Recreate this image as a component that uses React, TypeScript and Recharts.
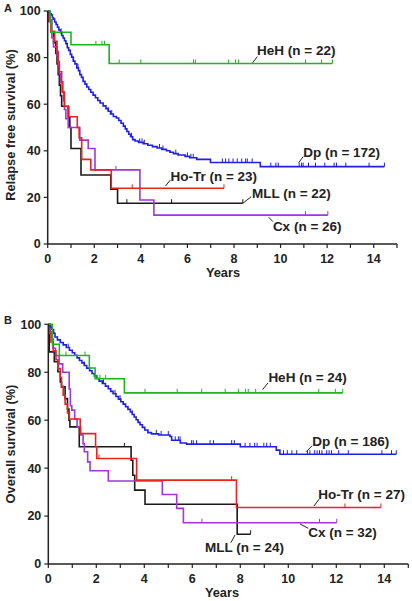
import React from 'react';
import { LineChart, Line, XAxis, YAxis, ReferenceLine, ReferenceDot } from 'recharts';

// ---------- DATA (Kaplan–Meier step curves: [years, survival %]) ----------
// Panel A: relapse free survival
const hehA: [number, number][] = [[0,100],[0.1,95.5],[0.17,90.9],[1.0,85.5],[2.64,77.5],[12.23,77.5]];
const dpA: [number, number][] = [
  [0,100],[0.05,99.4],[0.1,98.8],[0.15,98.3],[0.2,97.1],[0.25,96.5],[0.3,95.3],[0.36,94.2],[0.42,93],[0.48,91.9],
  [0.55,90.7],[0.6,89.5],[0.66,88.4],[0.72,87.2],[0.78,86],[0.84,84.3],[0.9,83.1],[0.97,81.4],[1.03,80.2],[1.1,78.5],
  [1.17,77.3],[1.25,75.6],[1.32,74.4],[1.38,72.7],[1.45,71.5],[1.52,69.8],[1.6,68.6],[1.68,67.4],[1.76,66.3],[1.85,65.1],
  [1.95,63.9],[2.05,62.8],[2.15,61.6],[2.25,60.5],[2.38,59.3],[2.5,58.1],[2.6,57],[2.7,55.8],[2.82,54.7],[2.95,54.1],
  [3.05,53],[3.15,51.8],[3.25,50.6],[3.33,49.4],[3.4,48.3],[3.48,47.1],[3.56,46],[3.65,44.8],[3.75,44.2],[3.9,43.6],
  [4.1,43],[4.3,42.4],[4.5,41.8],[4.7,41.2],[4.9,40.6],[5.1,40],[5.25,39.4],[5.4,38.8],[5.6,38.2],[5.9,37.6],
  [6.1,37],[6.4,36.3],[6.99,35],[9.13,33.2],[14.46,33.2],
];
const hotrA: [number, number][] = [
  [0,100],[0.05,95.7],[0.15,91.3],[0.3,87],[0.4,82.6],[0.45,78.3],[0.5,73.9],[0.6,69.6],[0.65,65.2],[0.72,59],
  [0.91,54.6],[1.27,50],[1.35,45.6],[1.46,36.3],[1.85,31.8],[2.73,23.9],[7.57,23.9],
];
const mllA: [number, number][] = [
  [0,100],[0.05,95.5],[0.15,90.9],[0.25,86.4],[0.35,81.8],[0.4,77.3],[0.45,72.7],[0.5,68.2],[0.55,63.6],[0.6,59.1],
  [0.88,54.5],[0.95,50],[1.0,41],[1.43,29.6],[2.71,23.5],[3.0,17.5],[8.38,17.5],
];
const cxA: [number, number][] = [
  [0,100],[0.1,96.2],[0.18,88.5],[0.25,84.6],[0.4,80.8],[0.45,76.9],[0.5,73.1],[0.55,69.2],[0.62,65.4],[0.68,61.5],
  [0.72,57.7],[0.78,53.8],[0.88,50],[1.38,44.6],[1.74,41],[2.03,31.8],[3.96,18.9],[4.56,12.4],[12.03,12.4],
];
// censor times (years)
const hehACens = [0.6,2.07,2.33,2.44,3.07,4.0,6.26,6.34,7.76,8.07,8.2,11.07,11.76,12.23];
const dpACens = [0.6,1.1,1.3,2.6,2.75,3.6,3.95,4.05,4.15,4.8,4.95,5.5,6.0,6.15,6.25,7.5,7.64,7.78,7.96,8.14,8.33,8.5,8.57,8.78,
  9.58,9.8,9.9,10.8,10.9,10.97,11.2,11.5,11.9,12.3,12.4,12.8,13.8,14.46];
const hotrACens = [3.63,7.57];
const mllACens = [3.4,5.32,8.38];
const cxACens = [2.93,11.07,12.03];

// Panel B: overall survival
const hehB: [number, number][] = [[0,100],[0.17,91.7],[0.46,87],[1.71,81.8],[1.95,77.3],[3.17,71.4],[12.27,71.4]];
const dpB: [number, number][] = [
  [0,100],[0.05,99.5],[0.1,98.9],[0.15,97.8],[0.22,96.2],[0.28,94.7],[0.38,93.5],[0.5,92.4],[0.62,91.4],[0.75,90.3],
  [0.88,89.2],[1.0,88.1],[1.1,87.1],[1.2,86],[1.3,84.9],[1.4,83.9],[1.5,82.8],[1.6,81.7],[1.72,80.6],[1.82,79.5],
  [1.92,78.5],[2.02,77.4],[2.12,76.3],[2.25,75.3],[2.38,74.2],[2.5,73.1],[2.6,72],[2.7,71],[2.82,69.9],[2.92,68.8],
  [3.02,67.7],[3.12,66.7],[3.22,65.6],[3.32,64.5],[3.42,63.4],[3.5,62.4],[3.58,61.3],[3.66,60.2],[3.74,59.1],[3.82,58.1],
  [3.92,57],[4.02,55.9],[4.15,54.8],[4.3,54.3],[4.6,53.8],[5.07,53.2],[5.14,51.6],[5.5,50.5],[5.76,50],[8.0,48.9],
  [9.5,47.5],[9.65,45.8],[14.5,45.8],
];
const hotrB: [number, number][] = [
  [0,100],[0.05,96.3],[0.11,92.6],[0.2,88.9],[0.32,85.2],[0.4,81.5],[0.5,77.8],[0.55,74.1],[0.62,70.4],[0.7,66.7],
  [0.8,63],[0.88,60.5],[1.33,54.4],[1.97,48.9],[2.02,44],[3.68,35],[7.84,23.6],[13.86,23.6],
];
const mllB: [number, number][] = [
  [0,100],[0.04,88.5],[0.25,84.4],[0.4,80.2],[0.5,76],[0.55,73.9],[0.7,69],[0.8,64.6],[0.86,60],[0.9,57.2],
  [1.29,48.9],[3.45,43.3],[3.52,37],[3.6,30.8],[4.03,24.9],[7.87,12.4],[8.43,12.4],
];
const cxB: [number, number][] = [
  [0,100],[0.08,96.9],[0.15,93.8],[0.21,90],[0.3,87],[0.45,83.5],[0.6,80],[0.87,73],[0.92,66],[0.98,64.2],
  [1.1,60.5],[1.2,57.2],[1.35,53.8],[1.45,50.2],[1.5,46.8],[1.64,42.6],[1.74,38.9],[2.5,34.6],[4.75,29],[5.35,23.2],
  [5.63,17.2],[12.02,17.2],
];
const hehBCens = [0.74,1.53,2.02,2.15,2.39,4.03,5.37,6.39,7.37,7.92,8.22,8.33,8.64,11.27,11.96,12.27];
const dpBCens = [0.83,1.5,2.3,2.78,2.99,3.5,4.5,4.7,5.0,5.29,5.42,5.49,5.97,6.04,6.18,6.74,6.88,7.64,7.75,8.2,8.4,8.6,8.7,
  8.98,9.1,9.25,9.8,9.96,10.15,10.35,10.8,10.9,11.1,11.2,11.3,11.4,11.6,11.7,11.8,12.1,12.5,13.9,14.3,14.5];
const hotrBCens = [2.11,7.64,12.36,13.86];
const mllBCens = [3.17,8.43];
const cxBCens = [6.4,11.3,12.02];

const xTicks = [0,1,2,3,4,5,6,7,8,9,10,11,12,13,14,15];
const yTicks = [0,20,40,60,80,100];

// ---------- STYLE ----------
const FONT = '"Liberation Sans", Arial, Helvetica, sans-serif';
const INK = '#222';
const C = { heh: '#22b322', dp: '#1f1fe6', hotr: '#ee2020', mll: '#1a1a1a', cx: '#a236d8' };

const toPts = (c: [number, number][]) => c.map(([t, s]) => ({ t, s }));
const stepValue = (c: [number, number][], t: number) => {
  let v = c[0][1];
  for (const [ct, cs] of c) { if (ct <= t + 1e-9) v = cs; else break; }
  return v;
};
const censPts = (c: [number, number][], times: number[]) => times.map((t) => ({ t, s: stepValue(c, t) }));

const censorDot = (color: string) => (props: any) => {
  const { cx, cy, index } = props;
  if (cx == null || cy == null) return <g key={`e${index}`} />;
  return <line key={`c${index}`} x1={cx} x2={cx} y1={cy - 4} y2={cy} stroke={color} strokeWidth={1} />;
};

const XTick = (props: any) => {
  const { x, y, payload } = props;
  if (payload.value % 2 !== 0) return <g />;
  return (
    <text x={x} y={y} dy={12.5} textAnchor="middle" fontFamily={FONT} fontWeight="bold" fontSize={12.5} fill={INK}>
      {payload.value}
    </text>
  );
};
const YTick = (props: any) => {
  const { x, y, payload } = props;
  return (
    <text x={x - 1} y={y} dy={4.4} textAnchor="end" fontFamily={FONT} fontWeight="bold" fontSize={12.5} fill={INK}>
      {payload.value}
    </text>
  );
};

type Ann = { text: string; x: number; y: number; lx1: number; ly1: number; lx2: number; ly2: number };
const annA: Ann[] = [
  { text: 'HeH (n = 22)', x: 8.99, y: 83.3, lx1: 8.8, ly1: 77.8, lx2: 9.0, ly2: 80.4 },
  { text: 'Dp (n = 172)', x: 10.97, y: 39.6, lx1: 10.78, ly1: 34.9, lx2: 10.97, ly2: 37.5 },
  { text: 'Ho-Tr (n = 23)', x: 5.27, y: 28.9, lx1: 5.06, ly1: 24.9, lx2: 5.27, ly2: 27.5 },
  { text: 'MLL (n = 22)', x: 8.77, y: 22, lx1: 8.38, ly1: 17.5, lx2: 8.74, ly2: 20.3 },
  { text: 'Cx (n = 26)', x: 9.67, y: 7.7, lx1: 9.49, ly1: 11.5, lx2: 9.67, ly2: 9.6 },
];
const annB: Ann[] = [
  { text: 'HeH (n = 24)', x: 9.17, y: 77.8, lx1: 8.93, ly1: 72.8, lx2: 9.15, ly2: 75.5 },
  { text: 'Dp (n = 186)', x: 11.0, y: 51.4, lx1: 10.74, ly1: 46.8, lx2: 10.99, ly2: 49.3 },
  { text: 'Ho-Tr (n = 27)', x: 11.25, y: 29, lx1: 11.07, ly1: 24.2, lx2: 11.28, ly2: 27 },
  { text: 'Cx (n = 32)', x: 10.83, y: 13.2, lx1: 10.49, ly1: 16.7, lx2: 10.83, ly2: 14.9 },
  { text: 'MLL (n = 24)', x: 6.53, y: 7, lx1: 7.61, ly1: 8.9, lx2: 7.78, ly2: 12.1 },
];

type Series = { key: string; curve: [number, number][]; cens: number[]; color: string };

const Panel = (p: {
  series: Series[]; ann: Ann[]; height: number; margin: any; yWidth: number; xHeight: number;
}) => (
  <LineChart width={412} height={p.height} margin={p.margin}>
    <XAxis
      type="number" dataKey="t" domain={[0, 15]} ticks={xTicks} interval={0}
      allowDataOverflow height={p.xHeight}
      axisLine={{ stroke: INK, strokeWidth: 1.5 }} tickLine={{ stroke: INK, strokeWidth: 1.2 }} tickSize={4}
      tick={<XTick />}
    />
    <YAxis
      type="number" domain={[0, 100]} ticks={yTicks} interval={0} width={p.yWidth}
      axisLine={{ stroke: INK, strokeWidth: 1.5 }} tickLine={{ stroke: INK, strokeWidth: 1.2 }} tickSize={4}
      tick={<YTick />}
    />
    {p.series.map((s) => (
      <Line
        key={s.key} data={toPts(s.curve)} dataKey="s" type="stepAfter" stroke={s.color}
        strokeWidth={1.6} dot={false} activeDot={false} isAnimationActive={false}
      />
    ))}
    {p.series.map((s) => (
      <Line
        key={s.key + 'c'} data={censPts(s.curve, s.cens)} dataKey="s" stroke="none"
        dot={censorDot(s.color)} activeDot={false} isAnimationActive={false}
      />
    ))}
    {p.ann.map((a) => (
      <ReferenceLine
        key={a.text + 'l'} segment={[{ x: a.lx1, y: a.ly1 }, { x: a.lx2, y: a.ly2 }]}
        stroke={INK} strokeWidth={1} ifOverflow="visible"
      />
    ))}
    {p.ann.map((a) => (
      <ReferenceDot
        key={a.text} x={a.x} y={a.y} r={1} ifOverflow="visible"
        shape={(sp: any) => (
          <text x={sp.cx} y={sp.cy} dy={4.8} fontFamily={FONT} fontWeight="bold" fontSize={13.5} fill={INK}>
            {a.text}
          </text>
        )}
      />
    ))}
  </LineChart>
);

const seriesA: Series[] = [
  { key: 'mll', curve: mllA, cens: mllACens, color: C.mll },
  { key: 'cx', curve: cxA, cens: cxACens, color: C.cx },
  { key: 'hotr', curve: hotrA, cens: hotrACens, color: C.hotr },
  { key: 'dp', curve: dpA, cens: dpACens, color: C.dp },
  { key: 'heh', curve: hehA, cens: hehACens, color: C.heh },
];
const seriesB: Series[] = [
  { key: 'mll', curve: mllB, cens: mllBCens, color: C.mll },
  { key: 'cx', curve: cxB, cens: cxBCens, color: C.cx },
  { key: 'hotr', curve: hotrB, cens: hotrBCens, color: C.hotr },
  { key: 'dp', curve: dpB, cens: dpBCens, color: C.dp },
  { key: 'heh', curve: hehB, cens: hehBCens, color: C.heh },
];

const txt: React.CSSProperties = { position: 'absolute', fontFamily: FONT, fontWeight: 'bold', color: INK, whiteSpace: 'nowrap' };

const VTitle = ({ text, cx, cy }: { text: string; cx: number; cy: number }) => (
  <div style={{ ...txt, fontSize: 12.8, width: 220, height: 16, lineHeight: '16px', textAlign: 'center',
    left: cx - 110, top: cy - 8, transform: 'rotate(-90deg)' }}>{text}</div>
);
const HTitle = ({ text, cx, cy }: { text: string; cx: number; cy: number }) => (
  <div style={{ ...txt, fontSize: 12.8, width: 100, height: 16, lineHeight: '16px', textAlign: 'center',
    left: cx - 50, top: cy - 8 }}>{text}</div>
);

export default function App() {
  return (
    <div style={{ position: 'absolute', left: 0, top: 0, width: 412, height: 601, background: '#fff', overflow: 'hidden' }}>
      <div style={{ position: 'absolute', left: 0, top: 0 }}>
        <Panel series={seriesA} ann={annA} height={300} margin={{ top: 11, right: 15, left: 0, bottom: 0 }} yWidth={47.7} xHeight={56} />
      </div>
      <div style={{ position: 'absolute', left: 0, top: 300 }}>
        <Panel series={seriesB} ann={annB} height={301} margin={{ top: 24.3, right: 3.7, left: 0, bottom: 0 }} yWidth={48.3} xHeight={37} />
      </div>
      <div style={{ ...txt, fontSize: 11, left: 4, top: 2 }}>A</div>
      <div style={{ ...txt, fontSize: 11, left: 4, top: 314 }}>B</div>
      <VTitle text="Relapse free survival  (%)" cx={11} cy={125} />
      <VTitle text="Overall survival (%)" cx={11} cy={444} />
      <HTitle text="Years" cx={223} cy={273} />
      <HTitle text="Years" cx={222} cy={593} />
    </div>
  );
}
